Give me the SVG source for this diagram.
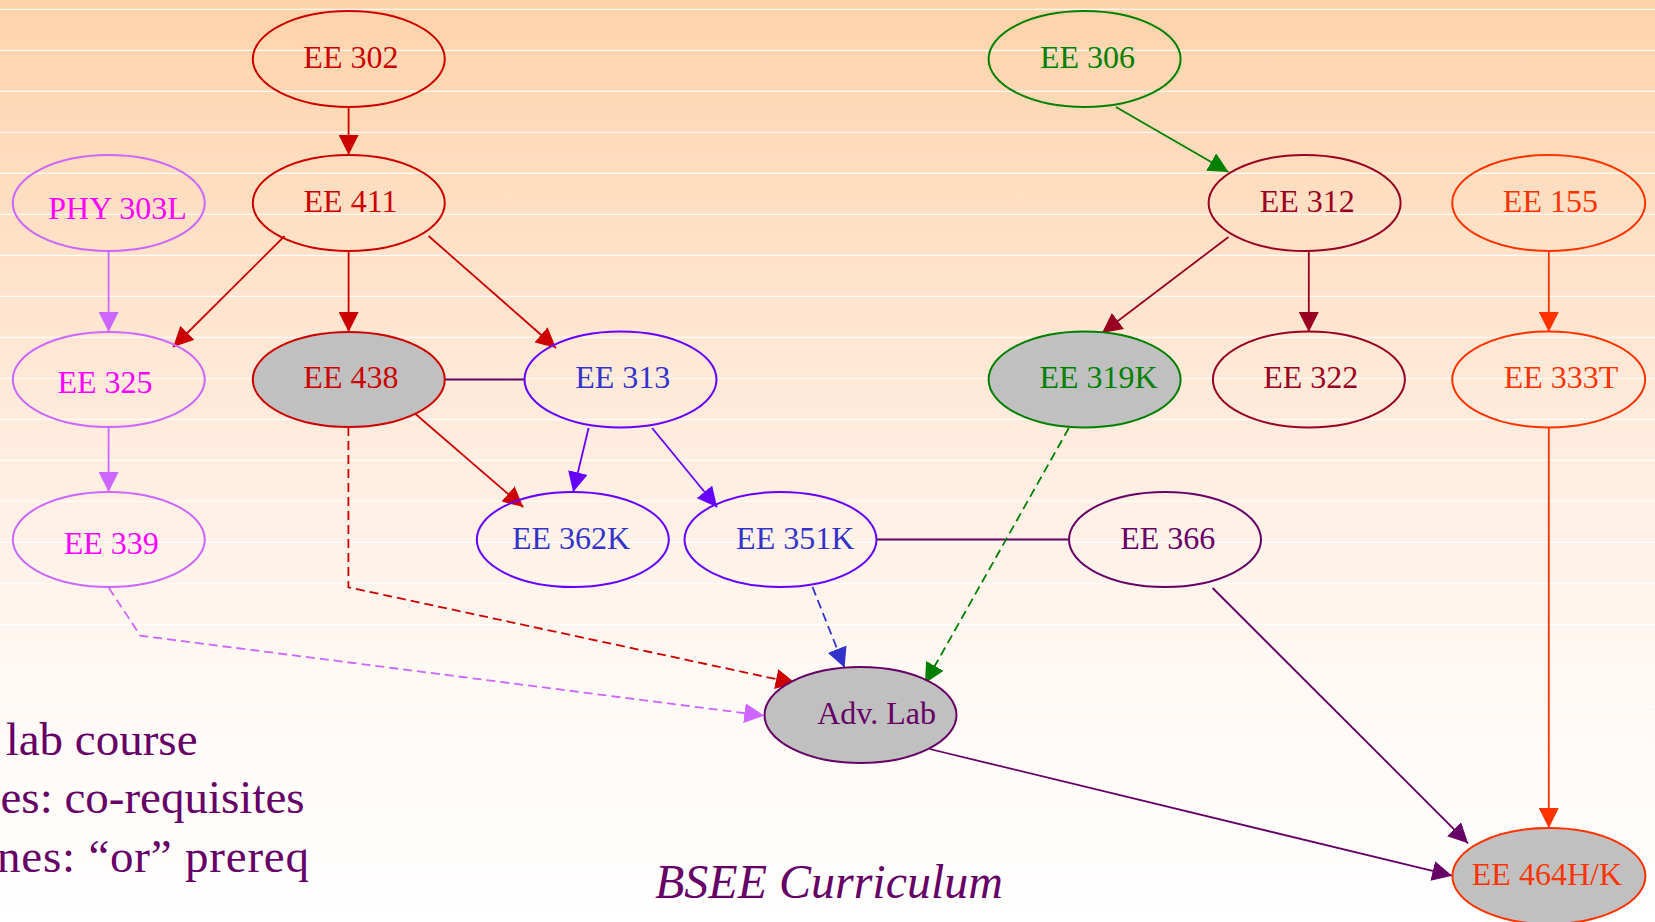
<svg xmlns="http://www.w3.org/2000/svg" width="1655" height="922" viewBox="0 0 1655 922">
<defs>
<linearGradient id="bg" x1="0" y1="0" x2="0" y2="1">
<stop offset="0" stop-color="#FED3AA"/>
<stop offset="0.45" stop-color="#FFEBDC"/>
<stop offset="0.75" stop-color="#FFF9F5"/>
<stop offset="1" stop-color="#FFFFFF"/>
</linearGradient>
<pattern id="stripes" x="0" y="0" width="1655" height="41" patternUnits="userSpaceOnUse">
<rect x="0" y="8.8" width="1655" height="1.1" fill="#FFFFFF"/>
</pattern>
<marker id="a-red" markerUnits="userSpaceOnUse" markerWidth="20" markerHeight="20" refX="20" refY="10" orient="auto"><path d="M0,0 L20,10 L0,20 Z" fill="#CC0000"/></marker>
<marker id="a-vio" markerUnits="userSpaceOnUse" markerWidth="20" markerHeight="20" refX="20" refY="10" orient="auto"><path d="M0,0 L20,10 L0,20 Z" fill="#CC66FF"/></marker>
<marker id="a-ind" markerUnits="userSpaceOnUse" markerWidth="20" markerHeight="20" refX="20" refY="10" orient="auto"><path d="M0,0 L20,10 L0,20 Z" fill="#6600FF"/></marker>
<marker id="a-blu" markerUnits="userSpaceOnUse" markerWidth="20" markerHeight="20" refX="20" refY="10" orient="auto"><path d="M0,0 L20,10 L0,20 Z" fill="#3333CC"/></marker>
<marker id="a-grn" markerUnits="userSpaceOnUse" markerWidth="20" markerHeight="20" refX="20" refY="10" orient="auto"><path d="M0,0 L20,10 L0,20 Z" fill="#008000"/></marker>
<marker id="a-crm" markerUnits="userSpaceOnUse" markerWidth="20" markerHeight="20" refX="20" refY="10" orient="auto"><path d="M0,0 L20,10 L0,20 Z" fill="#990022"/></marker>
<marker id="a-org" markerUnits="userSpaceOnUse" markerWidth="20" markerHeight="20" refX="20" refY="10" orient="auto"><path d="M0,0 L20,10 L0,20 Z" fill="#FF3300"/></marker>
<marker id="a-pur" markerUnits="userSpaceOnUse" markerWidth="20" markerHeight="20" refX="20" refY="10" orient="auto"><path d="M0,0 L20,10 L0,20 Z" fill="#660066"/></marker>
</defs>
<style>
ellipse{stroke-width:2;fill:none}
.lab{fill:#C0C0C0}
text{font-family:"Liberation Serif","Times New Roman",serif;font-size:32px;text-anchor:middle}
.e{fill:none;stroke-width:1.8}
.d{stroke-dasharray:9,5}
.red{stroke:#CC0000}.tred{fill:#CC0000}
.vio{stroke:#CC66FF}.tvio{fill:#FF00FF}
.ind{stroke:#6600FF}.tind{fill:#3333CC}
.blu{stroke:#3333CC}
.grn{stroke:#008000}.tgrn{fill:#008000}
.crm{stroke:#990022}.tcrm{fill:#990022}
.org{stroke:#FF3300}.torg{fill:#FF3300}
.pur{stroke:#660066}.tpur{fill:#660066}
.legend{font-size:47px;text-anchor:end;fill:#660066}
.title{font-size:48px;font-style:italic;fill:#660066}
</style>
<rect x="0" y="0" width="1655" height="922" fill="url(#bg)"/>
<rect x="0" y="0" width="1655" height="922" fill="url(#stripes)"/>

<g id="connectors">
<line class="e red" x1="348.6" y1="107" x2="348.6" y2="155" marker-end="url(#a-red)"/>
<line class="e red" x1="284.6" y1="236" x2="173.2" y2="347" marker-end="url(#a-red)"/>
<line class="e red" x1="348.6" y1="251" x2="348.6" y2="332" marker-end="url(#a-red)"/>
<line class="e red" x1="428.6" y1="236" x2="556" y2="348" marker-end="url(#a-red)"/>
<line class="e vio" x1="108.6" y1="251" x2="108.6" y2="332" marker-end="url(#a-vio)"/>
<line class="e vio" x1="108.6" y1="427" x2="108.6" y2="492" marker-end="url(#a-vio)"/>
<line class="e pur" x1="445" y1="379.5" x2="524.6" y2="379.5"/>
<line class="e red" x1="413.2" y1="412" x2="523.2" y2="507" marker-end="url(#a-red)"/>
<polyline class="e red d" points="348.4,427 348.4,587.3 795.7,683.3" marker-end="url(#a-red)"/>
<polyline class="e vio d" points="108.9,588 140.4,635.7 764.3,715.7" marker-end="url(#a-vio)"/>
<line class="e ind" x1="588.6" y1="428" x2="573.2" y2="492" marker-end="url(#a-ind)"/>
<line class="e ind" x1="652.1" y1="428" x2="717.1" y2="507.3" marker-end="url(#a-ind)"/>
<line class="e pur" x1="876.8" y1="539.5" x2="1068.9" y2="539.5"/>
<line class="e blu d" x1="812.5" y1="587" x2="844.6" y2="667.7" marker-end="url(#a-blu)"/>
<line class="e grn d" x1="1068.9" y1="428" x2="925" y2="683.3" marker-end="url(#a-grn)"/>
<line class="e grn" x1="1115.9" y1="107" x2="1228.5" y2="172" marker-end="url(#a-grn)"/>
<line class="e crm" x1="1228.5" y1="237" x2="1102" y2="333" marker-end="url(#a-crm)"/>
<line class="e crm" x1="1308.8" y1="251" x2="1308.8" y2="332" marker-end="url(#a-crm)"/>
<line class="e org" x1="1548.8" y1="251" x2="1548.8" y2="332" marker-end="url(#a-org)"/>
<line class="e org" x1="1548.8" y1="427" x2="1548.8" y2="828" marker-end="url(#a-org)"/>
<line class="e pur" x1="1212.6" y1="588" x2="1468.1" y2="843.3" marker-end="url(#a-pur)"/>
<line class="e pur" x1="929.6" y1="749" x2="1452.2" y2="875.7" marker-end="url(#a-pur)"/>
</g>

<g id="n-ee302"><ellipse class="red" cx="348.8" cy="59" rx="96" ry="48"/><text class="tred" x="350.9" y="68.3">EE 302</text></g>
<g id="n-ee411"><ellipse class="red" cx="348.8" cy="203" rx="96" ry="48"/><text class="tred" x="350.5" y="212">EE 411</text></g>
<g id="n-phy303l"><ellipse class="vio" cx="108.8" cy="203" rx="96" ry="48"/><text class="tvio" x="117.5" y="219">PHY 303L</text></g>
<g id="n-ee325"><ellipse class="vio" cx="108.8" cy="379.5" rx="96" ry="47.5"/><text class="tvio" x="105" y="393">EE 325</text></g>
<g id="n-ee438"><ellipse class="red lab" cx="348.8" cy="379.5" rx="96" ry="47.5"/><text class="tred" x="350.9" y="388">EE 438</text></g>
<g id="n-ee313"><ellipse class="ind" cx="620.5" cy="379.5" rx="96" ry="48"/><text class="tind" x="622.8" y="388">EE 313</text></g>
<g id="n-ee339"><ellipse class="vio" cx="108.8" cy="539.5" rx="96" ry="47.5"/><text class="tvio" x="111.3" y="554">EE 339</text></g>
<g id="n-ee362k"><ellipse class="ind" cx="572.8" cy="539.5" rx="96" ry="47.5"/><text class="tind" x="571" y="549">EE 362K</text></g>
<g id="n-ee351k"><ellipse class="ind" cx="780.5" cy="539.5" rx="96" ry="47.5"/><text class="tind" x="795.2" y="549">EE 351K</text></g>
<g id="n-ee366"><ellipse class="pur" cx="1165" cy="539.5" rx="96" ry="47.5"/><text class="tpur" x="1167.8" y="549">EE 366</text></g>
<g id="n-advlab"><ellipse class="pur lab" cx="860.5" cy="715" rx="96" ry="48"/><text class="tpur" x="876.6" y="724">Adv. Lab</text></g>
<g id="n-ee306"><ellipse class="grn" cx="1084.6" cy="59" rx="96" ry="48"/><text class="tgrn" x="1087.5" y="68.3">EE 306</text></g>
<g id="n-ee319k"><ellipse class="grn lab" cx="1084.6" cy="379.5" rx="96" ry="48"/><text class="tgrn" x="1098.5" y="388">EE 319K</text></g>
<g id="n-ee312"><ellipse class="crm" cx="1304.6" cy="203" rx="96" ry="48"/><text class="tcrm" x="1307.3" y="212">EE 312</text></g>
<g id="n-ee322"><ellipse class="crm" cx="1308.9" cy="379.5" rx="96" ry="48"/><text class="tcrm" x="1310.8" y="388">EE 322</text></g>
<g id="n-ee155"><ellipse class="org" cx="1548.7" cy="203" rx="96.5" ry="48"/><text class="torg" x="1550.4" y="212">EE 155</text></g>
<g id="n-ee333t"><ellipse class="org" cx="1548.7" cy="379.5" rx="96.5" ry="48"/><text class="torg" x="1561" y="388">EE 333T</text></g>
<g id="n-ee464hk"><ellipse class="org lab" cx="1548.9" cy="876" rx="96.5" ry="48"/><text class="torg" x="1546.9" y="885">EE 464H/K</text></g>

<g id="legend">
<text class="legend" x="197.5" y="755">lab course</text>
<text class="legend" x="304.6" y="812.7">es: co-requisites</text>
<text class="legend" x="309" y="871.7" textLength="312" lengthAdjust="spacing">nes: “or” prereq</text>
</g>
<text class="title" x="829" y="898">BSEE Curriculum</text>
</svg>
